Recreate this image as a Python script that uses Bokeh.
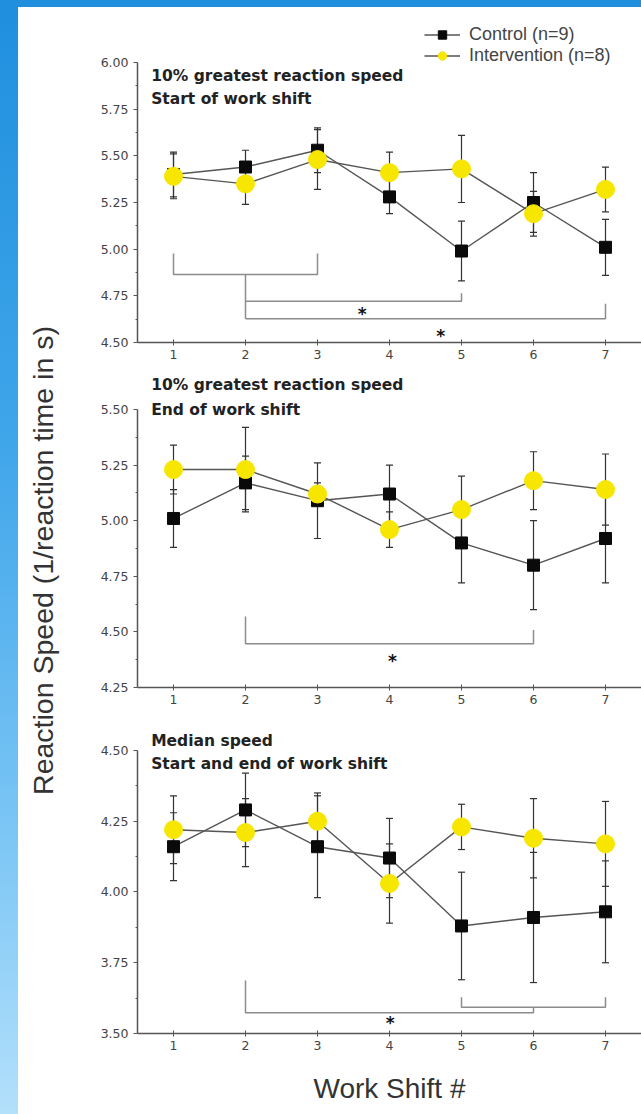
import math
from bokeh.plotting import figure
from bokeh.models import (Range1d, FixedTicker, NumeralTickFormatter, ColumnDataSource,
                          Whisker, TeeHead, Legend, LegendItem, Label)
from bokeh.layouts import row, column
from bokeh.embed import file_html
from bokeh.resources import INLINE
from bokeh.core.properties import value

# ---------------- data ----------------
shifts = [1, 2, 3, 4, 5, 6, 7]

# Panel 1: 10% greatest reaction speed, start of work shift
start_ctrl = [5.40, 5.44, 5.53, 5.28, 4.99, 5.25, 5.01]
start_ctrl_err = [0.12, 0.09, 0.12, 0.09, 0.16, 0.16, 0.15]
start_int = [5.39, 5.35, 5.48, 5.41, 5.43, 5.19, 5.32]
start_int_err = [0.12, 0.11, 0.16, 0.11, 0.18, 0.12, 0.12]

# Panel 2: 10% greatest reaction speed, end of work shift
end_ctrl = [5.01, 5.17, 5.09, 5.12, 4.90, 4.80, 4.92]
end_ctrl_err = [0.13, 0.12, 0.17, 0.13, 0.18, 0.20, 0.20]
end_int = [5.23, 5.23, 5.12, 4.96, 5.05, 5.18, 5.14]
end_int_err = [0.11, 0.19, 0.05, 0.08, 0.15, 0.13, 0.16]

# Panel 3: median speed, start and end of work shift
med_ctrl = [4.16, 4.29, 4.16, 4.12, 3.88, 3.91, 3.93]
med_ctrl_err = [0.12, 0.13, 0.18, 0.14, 0.19, 0.23, 0.18]
med_int = [4.22, 4.21, 4.25, 4.03, 4.23, 4.19, 4.17]
med_int_err = [0.12, 0.12, 0.10, 0.14, 0.08, 0.14, 0.15]

# y tick labels per panel
start_ticks = [4.50, 4.75, 5.00, 5.25, 5.50, 5.75, 6.00]
end_ticks = [4.25, 4.50, 4.75, 5.00, 5.25, 5.50]
med_ticks = [3.50, 3.75, 4.00, 4.25, 4.50]

# significance brackets (polylines) and stars
start_br_xs = [[1, 1, 3, 3], [2, 2], [2, 5, 5], [2, 7, 7]]
start_br_ys = [[4.977, 4.864, 4.864, 4.977], [4.864, 4.627], [4.721, 4.721, 4.764], [4.627, 4.627, 4.707]]
start_star_x = [3.62, 4.71]
start_star_y = [4.677, 4.561]

end_br_xs = [[2, 2, 6, 6]]
end_br_ys = [[4.569, 4.447, 4.447, 4.509]]
end_star_x = [4.04]
end_star_y = [4.391]

med_br_xs = [[2, 2, 6, 6], [5, 5, 7, 7]]
med_br_ys = [[3.687, 3.573, 3.573, 3.593], [3.628, 3.593, 3.593, 3.628]]
med_star_x = [4.01]
med_star_y = [3.555]

titles_start = ["10% greatest  reaction speed", "Start  of  work shift"]
titles_end = ["10% greatest  reaction speed", "End  of  work shift"]
titles_med = ["Median speed", "Start and end of work shift"]

legend_labels = ["Control (n=9)", "Intervention (n=8)"]
x_label = "Work Shift #"
y_label = "Reaction Speed (1/reaction time in s)"

# ---------------- style ----------------
YELLOW = "#f7e600"
AXIS_C = "#555555"
TICK_FONT = "DejaVu Sans"


def make_panel(height, border_bottom, y_lo, y_hi, y_top, ticks, ctrl, ctrl_err, inter, inter_err,
               titles, title_ys, br_xs, br_ys, star_x, star_y, xlabel=None):
    p = figure(width=579, height=height, x_range=Range1d(0.5, 7.5), y_range=Range1d(y_lo, y_top),
               output_backend="svg", toolbar_location=None,
               min_border_left=75, min_border_right=0, min_border_top=0,
               min_border_bottom=border_bottom)
    p.outline_line_color = None
    p.xgrid.visible = False
    p.ygrid.visible = False
    p.background_fill_color = "white"
    p.border_fill_color = "white"

    minor = [t + 0.125 for t in ticks[:-1]]
    ya = p.yaxis[0]
    ya.ticker = FixedTicker(ticks=ticks, minor_ticks=minor)
    ya.formatter = NumeralTickFormatter(format="0.00")
    ya.bounds = (y_lo, y_hi)
    xa = p.xaxis[0]
    xa.ticker = FixedTicker(ticks=shifts)
    for ax in (xa, ya):
        ax.axis_line_color = AXIS_C
        ax.axis_line_width = 1.5
        ax.major_tick_line_color = AXIS_C
        ax.minor_tick_line_color = AXIS_C
        ax.major_label_text_font = TICK_FONT
        ax.major_label_text_font_size = "12.5px"
        ax.major_label_text_color = "#444444"
    ya.major_tick_out = 4
    ya.major_tick_in = 0
    ya.minor_tick_out = 2
    ya.minor_tick_in = 0
    ya.major_label_standoff = 5
    xa.major_tick_out = 3
    xa.major_tick_in = 3
    xa.minor_tick_out = 0
    xa.minor_tick_in = 0
    xa.major_label_standoff = 4
    if xlabel:
        xa.axis_label = xlabel
        xa.axis_label_text_font = "Liberation Sans"
        xa.axis_label_text_font_size = "28px"
        xa.axis_label_text_font_style = "normal"
        xa.axis_label_text_color = "#333333"
        xa.axis_label_standoff = 20

    # brackets
    p.multi_line(xs=br_xs, ys=br_ys, line_color="#8c8c8c", line_width=1.5)
    p.text(x=star_x, y=star_y, text=["*"] * len(star_x), text_font=value("DejaVu Sans"),
           text_font_size="17px", text_font_style="bold", text_align="center",
           text_baseline="middle", text_color="#111111", y_offset=5)

    # error bars
    src_c = ColumnDataSource(dict(x=shifts, up=[v + e for v, e in zip(ctrl, ctrl_err)],
                                  lo=[v - e for v, e in zip(ctrl, ctrl_err)]))
    src_i = ColumnDataSource(dict(x=shifts, up=[v + e for v, e in zip(inter, inter_err)],
                                  lo=[v - e for v, e in zip(inter, inter_err)]))
    for src in (src_c, src_i):
        w = Whisker(base="x", upper="up", lower="lo", source=src, line_color="#333333",
                    line_width=1.2,
                    upper_head=TeeHead(size=7, line_color="#333333", line_width=1.2),
                    lower_head=TeeHead(size=7, line_color="#333333", line_width=1.2))
        p.add_layout(w)

    lc = p.line(shifts, ctrl, line_color="#555555", line_width=1.4)
    li = p.line(shifts, inter, line_color="#555555", line_width=1.4)
    sc = p.scatter(shifts, ctrl, marker="square", size=12, fill_color="#0a0a0a", line_color="#0a0a0a")
    si = p.scatter(shifts, inter, marker="circle", size=18, fill_color=YELLOW, line_color=YELLOW)

    for t, ty in zip(titles, title_ys):
        p.add_layout(Label(x=0.69, y=ty, text=t, text_font="DejaVu Sans", text_font_style="bold",
                           text_font_size="15.5px", text_color="#222222", text_baseline="middle"))
    return p, (lc, sc, li, si)


f1, r1 = make_panel(365, 30, 4.5, 6.0, 6.2946, start_ticks, start_ctrl, start_ctrl_err,
                    start_int, start_int_err, titles_start, [5.930, 5.807],
                    start_br_xs, start_br_ys, start_star_x, start_star_y)
f2, _ = make_panel(345, 30, 4.25, 5.5, 5.6664, end_ticks, end_ctrl, end_ctrl_err,
                   end_int, end_int_err, titles_end, [5.608, 5.50],
                   end_br_xs, end_br_ys, end_star_x, end_star_y)
f3, _ = make_panel(397, 81, 3.5, 4.5, 4.6166, med_ticks, med_ctrl, med_ctrl_err,
                   med_int, med_int_err, titles_med, [4.535, 4.451],
                   med_br_xs, med_br_ys, med_star_x, med_star_y, xlabel=x_label)

lc, sc, li, si = r1
legend = Legend(items=[LegendItem(label=legend_labels[0], renderers=[lc, sc]),
                       LegendItem(label=legend_labels[1], renderers=[li, si])],
                location=(287, 276), glyph_width=36, glyph_height=21, spacing=0,
                padding=0, margin=0, label_standoff=9,
                label_text_font="Liberation Sans", label_text_font_size="18px",
                label_text_color="#444444", border_line_alpha=0, background_fill_alpha=0)
f1.add_layout(legend)

# left strip with the shared y-axis label
left = figure(width=44, height=1107, x_range=Range1d(0, 44), y_range=Range1d(0, 1107),
              output_backend="svg", toolbar_location=None, min_border=0,
              x_axis_type=None, y_axis_type=None)
left.outline_line_color = None
left.xgrid.visible = False
left.ygrid.visible = False
left.background_fill_color = "white"
left.border_fill_color = "white"
left.add_layout(Label(x=24, y=554, text=y_label, angle=math.pi / 2, text_align="center",
                      text_baseline="middle", text_font="Liberation Sans",
                      text_font_size="28.5px", text_color="#333333"))
left.margin = (7, 0, 0, 18)
left.styles = {"background-color": "white"}

col = column(f1, f2, f3, spacing=0, styles={"background-color": "white"})
col.margin = (7, 0, 0, 0)
page = row(left, col, spacing=0,
           styles={"background": "linear-gradient(180deg, #1f8fde 0%, #40a6ea 40%, #7cc6f5 75%, #b3e0fb 100%)"})

open("out.html", "w").write(file_html(page, INLINE))
